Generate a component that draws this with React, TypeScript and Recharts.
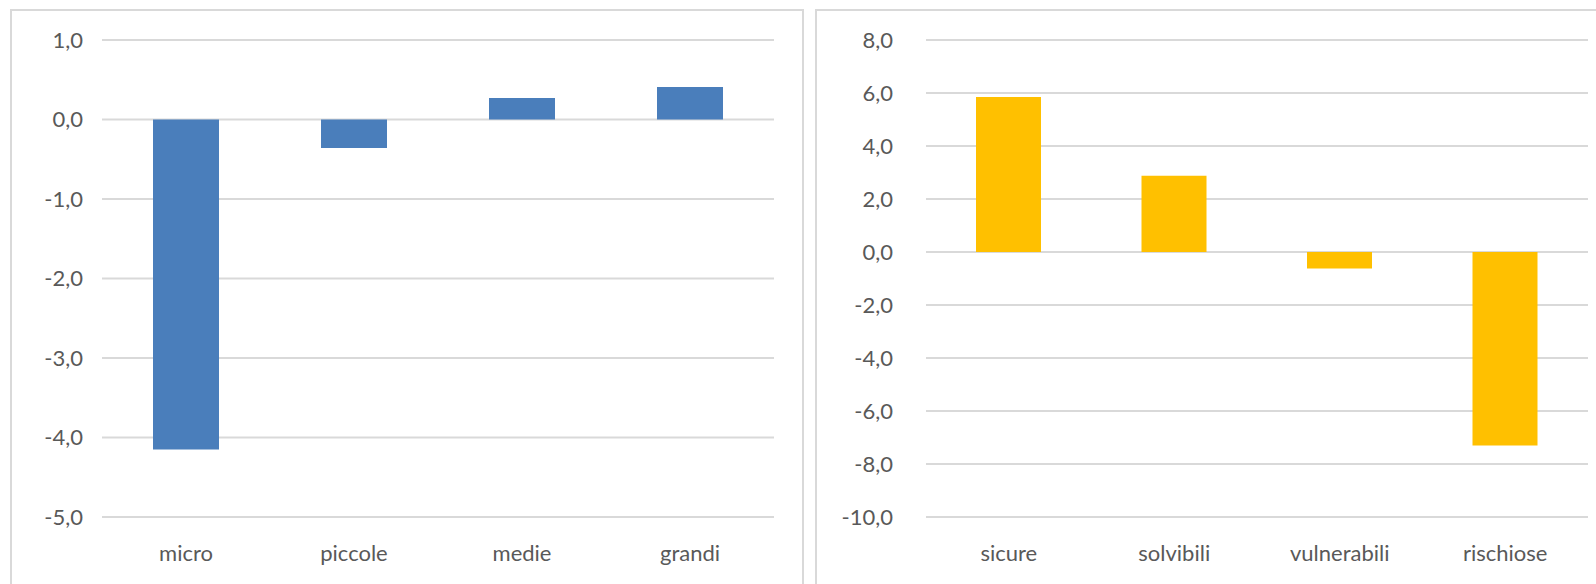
import { Bar, BarChart, CartesianGrid, XAxis, YAxis } from "recharts";

const sizeCategories = ["micro", "piccole", "medie", "grandi"];
const sizeValues = [-4.15, -0.36, 0.27, 0.41];
const sizeTicks = [1, 0, -1, -2, -3, -4, -5];

const riskCategories = ["sicure", "solvibili", "vulnerabili", "rischiose"];
const riskValues = [5.85, 2.88, -0.62, -7.3];
const riskTicks = [8, 6, 4, 2, 0, -2, -4, -6, -8, -10];

const textColor = "#595959";
const gridColor = "#d9d9d9";
const font = "Lato, 'Open Sans', sans-serif";

const fmt = (v: number) => v.toFixed(1).replace(".", ",");

interface PanelProps {
  categories: string[];
  values: number[];
  ticks: number[];
  color: string;
  left: number;
  width: number;
  yAxisWidth: number;
  yTickMargin: number;
  marginLeft: number;
  marginRight: number;
  barSize: number;
}

function Panel({ categories, values, ticks, color, left, width, yAxisWidth, yTickMargin, marginLeft, marginRight, barSize }: PanelProps) {
  const data = categories.map((label, i) => ({ label, value: values[i] }));
  const domain = [Math.min(...ticks), Math.max(...ticks)];
  return (
    <div
      style={{
        position: "absolute",
        left,
        top: 9,
        width,
        height: 590,
        border: `2px solid ${gridColor}`,
        boxSizing: "border-box",
        background: "#fff",
      }}
    >
      <BarChart
        width={width - 4}
        height={575}
        data={data}
        margin={{ top: 29, right: marginRight, left: marginLeft, bottom: 7 }}
        style={{ fontFamily: font }}
      >
        <CartesianGrid stroke={gridColor} strokeWidth={2} vertical={false} />
        <XAxis
          dataKey="label"
          axisLine={false}
          tickLine={false}
          height={62}
          tickMargin={22}
          tick={{ fill: textColor, fontSize: 22 }}
        />
        <YAxis
          type="number"
          domain={domain}
          ticks={ticks}
          interval={0}
          width={yAxisWidth}
          axisLine={false}
          tickLine={false}
          tickMargin={yTickMargin}
          tickFormatter={fmt}
          tick={{ fill: textColor, fontSize: 22 }}
        />
        <Bar dataKey="value" fill={color} barSize={barSize} isAnimationActive={false} />
      </BarChart>
    </div>
  );
}

export default function App() {
  return (
    <div style={{ position: "absolute", left: 0, top: 0, width: 1596, height: 584, overflow: "hidden", background: "#fff" }}>
      <Panel
        categories={sizeCategories}
        values={sizeValues}
        ticks={sizeTicks}
        color="#4a7ebb"
        left={10}
        width={794}
        yAxisWidth={70}
        yTickMargin={13}
        marginLeft={20}
        marginRight={28}
        barSize={66}
      />
      <Panel
        categories={riskCategories}
        values={riskValues}
        ticks={riskTicks}
        color="#ffc000"
        left={815}
        width={790}
        yAxisWidth={80}
        yTickMargin={27}
        marginLeft={29}
        marginRight={15}
        barSize={65}
      />
    </div>
  );
}
